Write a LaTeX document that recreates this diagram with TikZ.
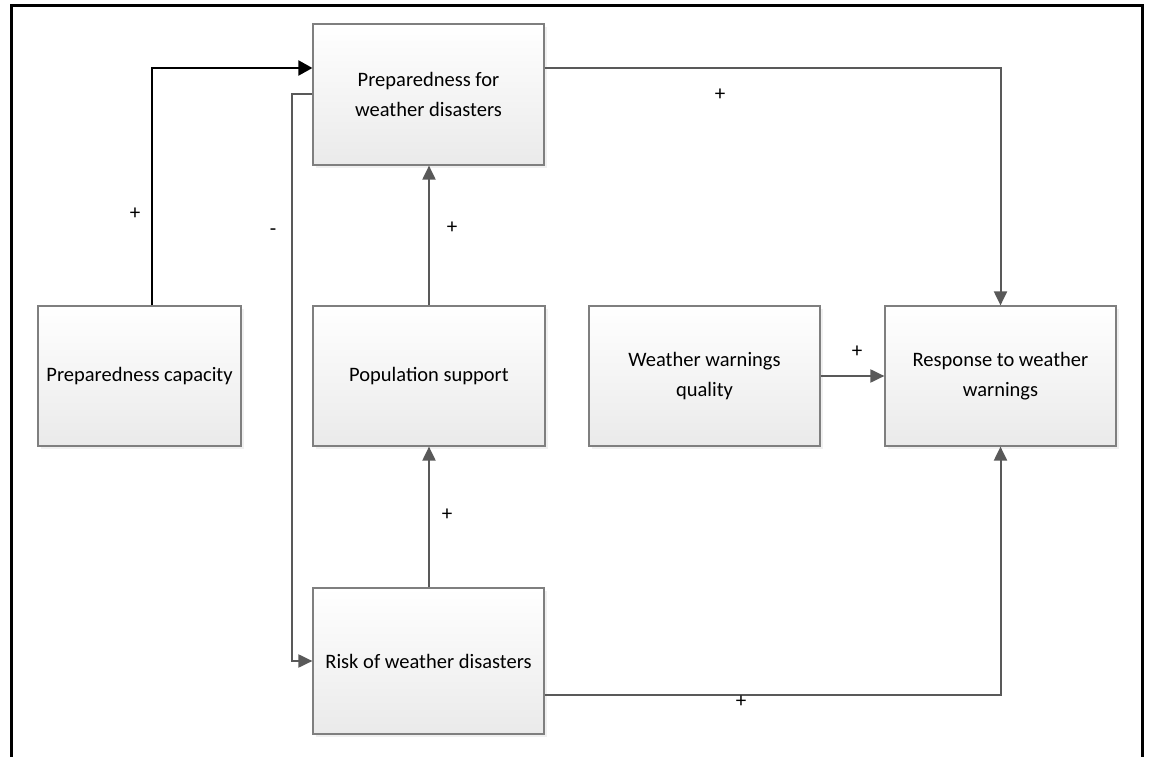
\documentclass[tikz,border=0pt]{standalone}
\usepackage{fontspec}
\setmainfont{Carlito}
\usetikzlibrary{arrows.meta,shadows}
\definecolor{boxedge}{HTML}{7F7F7F}
\definecolor{linkgray}{HTML}{595959}
\definecolor{boxbot}{HTML}{EAEAEA}
\begin{document}
\begin{tikzpicture}[x=1pt,y=-1pt,
  box/.style={draw=boxedge,line width=1.2pt,top color=white,bottom color=boxbot,
    drop shadow={opacity=0.12,shadow xshift=3pt,shadow yshift=-3pt},
    align=center,inner sep=0pt,font=\fontsize{20.5}{30}\selectfont},
  link/.style={draw=linkgray,line width=2pt,-{Triangle[length=14pt,width=13pt]},color=linkgray},
  blink/.style={draw=black,line width=2.2pt,-{Triangle[length=14pt,width=15pt]}},
  sign/.style={font=\fontsize{21}{24}\selectfont,inner sep=0pt}]
\useasboundingbox (0,0) rectangle (1149,757);
% frame
\draw[line width=3pt,black] (11,757) -- (11,6) -- (1142,6) -- (1142,757);
% boxes
\node[box,minimum width=231pt,minimum height=141pt] (prep) at (428.5,94.5) {Preparedness for\\weather disasters};
\node[box,minimum width=203pt,minimum height=140pt] (cap) at (139.5,376) {Preparedness capacity};
\node[box,minimum width=232pt,minimum height=140pt] (pop) at (429,376) {Population support};
\node[box,minimum width=231pt,minimum height=140pt] (wwq) at (704.5,376) {Weather warnings\\quality};
\node[box,minimum width=231pt,minimum height=140pt] (resp) at (1000.5,376) {Response to weather\\warnings};
\node[box,minimum width=231pt,minimum height=146pt] (risk) at (428.5,661) {Risk of weather disasters};
% turning points
\coordinate (k1) at (152,68);
\coordinate (k2) at (292,94);
\coordinate (k3) at (429,0);
\coordinate (k4) at (0,68);
\coordinate (k5) at (0,695);
% connectors
\draw[blink] (cap.north -| k1) |- (prep.west |- k1);
\draw[link] (prep.west |- k2) -- (k2) |- (risk.west);
\draw[link] (pop.north -| k3) -- (prep.south -| k3);
\draw[link] (risk.north -| k3) -- (pop.south -| k3);
\draw[link] (wwq.east) -- (resp.west);
\draw[link] (prep.east |- k4) -| (resp.north);
\draw[link] (risk.east |- k5) -| (resp.south);
% signs
\node[sign] (s1) at (135,214) {+};
\node[sign] (s2) at (273,232) {-};
\node[sign] (s3) at (452,228) {+};
\node[sign] (s4) at (720,95) {+};
\node[sign] (s5) at (447,515) {+};
\node[sign] (s6) at (857,352) {+};
\node[sign] (s7) at (741,702) {+};
\end{tikzpicture}
\end{document}
